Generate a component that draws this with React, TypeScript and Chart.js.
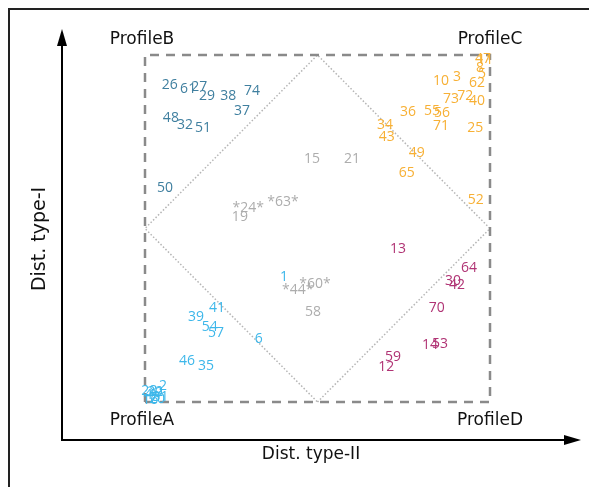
import React, { useEffect, useRef } from "react";
import { Chart, registerables } from "chart.js";

Chart.register(...registerables);

// Profile group labels & positions (x = Dist. type-II, y = Dist. type-I, normalised 0..1)
const profileBLabels = ["26", "61", "27", "29", "38", "74", "37", "48", "32", "51", "50"];
const profileBX = [0.072, 0.125, 0.157, 0.180, 0.241, 0.310, 0.281, 0.075, 0.116, 0.168, 0.058];
const profileBY = [0.914, 0.902, 0.908, 0.882, 0.882, 0.896, 0.839, 0.818, 0.798, 0.790, 0.617];

const profileCLabels = ["10", "3", "62", "73", "72", "40", "36", "55", "56", "71", "25", "34", "43", "49", "65", "52", "47", "11", "8", "5"];
const profileCX = [0.858, 0.904, 0.962, 0.887, 0.928, 0.962, 0.762, 0.832, 0.861, 0.858, 0.957, 0.696, 0.701, 0.788, 0.759, 0.959, 0.980, 0.986, 0.971, 0.977];
const profileCY = [0.925, 0.937, 0.919, 0.873, 0.882, 0.867, 0.836, 0.839, 0.833, 0.795, 0.790, 0.798, 0.764, 0.718, 0.660, 0.582, 0.988, 0.986, 0.963, 0.945];

const centerLabels = ["15", "21", "*24*", "*63*", "19", "*44*", "*60*", "58"];
const centerX = [0.484, 0.600, 0.299, 0.400, 0.275, 0.443, 0.493, 0.487];
const centerY = [0.700, 0.700, 0.559, 0.576, 0.533, 0.323, 0.340, 0.259];

const profileALabels = ["1", "41", "39", "54", "57", "6", "46", "35", "2", "4", "7", "9", "16", "20", "22", "28", "31"];
const profileAX = [0.403, 0.209, 0.148, 0.188, 0.206, 0.330, 0.122, 0.177, 0.052, 0.010, 0.025, 0.040, 0.015, 0.035, 0.030, 0.012, 0.045];
const profileAY = [0.360, 0.271, 0.245, 0.216, 0.199, 0.182, 0.118, 0.104, 0.046, 0.020, 0.012, 0.025, 0.005, 0.008, 0.030, 0.032, 0.015];

const profileDLabels = ["13", "64", "30", "42", "70", "14", "53", "59", "12"];
const profileDX = [0.733, 0.939, 0.893, 0.904, 0.846, 0.826, 0.855, 0.719, 0.699];
const profileDY = [0.441, 0.386, 0.349, 0.337, 0.271, 0.164, 0.167, 0.130, 0.101];

// Reference shapes
const squareX = [0, 0, 1, 1, 0];
const squareY = [0, 1, 1, 0, 0];
const diamondX = [0.5, 1, 0.5, 0, 0.5];
const diamondY = [0, 0.5, 1, 0.5, 0];

const cornerNames = ["ProfileA", "ProfileB", "ProfileC", "ProfileD"];
const cornerX = [0, 0, 1, 1];
const cornerY = [0, 1, 1, 0];

const xTitle = "Dist. type-II";
const yTitle = "Dist. type-I";

const FONT = "'DejaVu Sans', sans-serif";
const LABEL_FONT = "'Open Sans', 'DejaVu Sans', sans-serif";

function pts(xs: number[], ys: number[]) {
  return xs.map((x, i) => ({ x, y: ys[i] }));
}

const labelPlugin = {
  id: "labelPlugin",
  afterDatasetsDraw(chart: any) {
    const ctx = chart.ctx;
    ctx.save();
    ctx.textAlign = "center";
    ctx.textBaseline = "middle";
    ctx.font = `14px ${LABEL_FONT}`;
    chart.data.datasets.forEach((ds: any, di: number) => {
      if (!ds.labels) return;
      const meta = chart.getDatasetMeta(di);
      ctx.fillStyle = ds.textColor;
      meta.data.forEach((el: any, i: number) => {
        ctx.fillText(ds.labels[i], el.x, el.y);
      });
    });
    ctx.restore();
  },
  afterDraw(chart: any) {
    const ctx = chart.ctx;
    const xs = chart.scales.x;
    const ys = chart.scales.y;
    ctx.save();
    // frame
    ctx.strokeStyle = "#222";
    ctx.lineWidth = 2;
    ctx.beginPath();
    ctx.moveTo(9, 487);
    ctx.lineTo(9, 9);
    ctx.lineTo(589, 9);
    ctx.stroke();

    // axes with arrows
    const ox = 62, oy = 440;
    ctx.strokeStyle = "#000";
    ctx.fillStyle = "#000";
    ctx.lineWidth = 2;
    ctx.beginPath();
    ctx.moveTo(ox, oy);
    ctx.lineTo(ox, 40);
    ctx.moveTo(ox - 1, oy);
    ctx.lineTo(570, oy);
    ctx.stroke();
    ctx.beginPath();
    ctx.moveTo(ox, 29);
    ctx.lineTo(ox - 5, 46);
    ctx.lineTo(ox + 5, 46);
    ctx.closePath();
    ctx.fill();
    ctx.beginPath();
    ctx.moveTo(581, oy);
    ctx.lineTo(564, oy - 5);
    ctx.lineTo(564, oy + 5);
    ctx.closePath();
    ctx.fill();

    // corner names
    ctx.fillStyle = "#111";
    ctx.font = `17px ${FONT}`;
    ctx.textAlign = "center";
    ctx.textBaseline = "middle";
    cornerNames.forEach((n, i) => {
      const px = xs.getPixelForValue(cornerX[i]);
      const py = ys.getPixelForValue(cornerY[i]);
      const dy = cornerY[i] === 1 ? -15 : 19;
      const dx = cornerX[i] === 0 ? -3 : 0;
      ctx.fillText(n, px + dx, py + dy);
    });

    // axis titles
    ctx.font = `17px ${FONT}`;
    ctx.fillText(xTitle, 311, 455);
    ctx.save();
    ctx.translate(40, 239);
    ctx.rotate(-Math.PI / 2);
    ctx.font = `19px ${FONT}`;
    ctx.fillText(yTitle, 0, 0);
    ctx.restore();
    ctx.restore();
  },
};

export default function App() {
  const ref = useRef<HTMLCanvasElement>(null);
  useEffect(() => {
    if (!ref.current) return;
    const textDs = (labels: string[], xs: number[], ys: number[], color: string) => ({
      type: "scatter" as const,
      data: pts(xs, ys),
      labels,
      textColor: color,
      pointRadius: 0,
      pointHoverRadius: 0,
      showLine: false,
      clip: false as any,
    });
    const chart = new Chart(ref.current, {
      type: "scatter",
      data: {
        datasets: [
          {
            type: "line",
            data: pts(squareX, squareY),
            borderColor: "#8a8a8a",
            borderWidth: 2.5,
            borderDash: [9, 7],
            pointRadius: 0,
            fill: false,
            tension: 0,
            clip: false as any,
          },
          {
            type: "line",
            data: pts(diamondX, diamondY),
            borderColor: "#b5b5b5",
            borderWidth: 1.5,
            borderDash: [1.5, 2],
            pointRadius: 0,
            fill: false,
            tension: 0,
            clip: false as any,
          },
          textDs(profileBLabels, profileBX, profileBY, "#3f7f9f") as any,
          textDs(profileCLabels, profileCX, profileCY, "#f7b035") as any,
          textDs(centerLabels, centerX, centerY, "#adadad") as any,
          textDs(profileALabels, profileAX, profileAY, "#3db7ea") as any,
          textDs(profileDLabels, profileDX, profileDY, "#b03374") as any,
        ],
      },
      options: {
        animation: false,
        responsive: false,
        events: [],
        layout: { padding: { left: 145, right: 99, top: 55, bottom: 85 } },
        plugins: { legend: { display: false }, tooltip: { enabled: false } },
        scales: {
          x: { type: "linear", min: 0, max: 1, display: false },
          y: { type: "linear", min: 0, max: 1, display: false },
        },
      },
      plugins: [labelPlugin],
    });
    return () => chart.destroy();
  }, []);
  return (
    <div style={{ position: "absolute", left: 0, top: 0, width: 589, height: 487, background: "#fff" }}>
      <canvas ref={ref} width={589} height={487} />
    </div>
  );
}
